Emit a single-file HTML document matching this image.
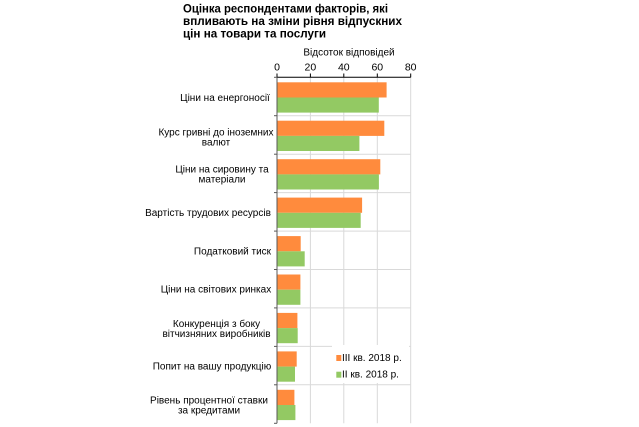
<!DOCTYPE html>
<html><head><meta charset="utf-8"><style>
html,body{margin:0;padding:0;background:#fff;}
svg{display:block;}
text{font-family:"Liberation Sans",Arial,sans-serif;fill:#000;}
</style></head><body>
<svg width="639" height="427" viewBox="0 0 639 427" xmlns="http://www.w3.org/2000/svg">
<rect width="639" height="427" fill="#fff"/>
<!-- title -->
<g font-weight="bold" font-size="12.3">
<text x="183" y="12.5" textLength="205" lengthAdjust="spacingAndGlyphs">Оцінка респондентами факторів, які</text>
<text x="183" y="25" textLength="219" lengthAdjust="spacingAndGlyphs">впливають на зміни рівня відпускних</text>
<text x="183" y="37.5" textLength="143" lengthAdjust="spacingAndGlyphs">цін на товари та послуги</text>
</g>
<text x="349" y="55.5" font-size="10" text-anchor="middle">Відсоток відповідей</text>
<g font-size="10.5" text-anchor="middle">
<text x="277" y="70.7">0</text>
<text x="310.4" y="70.7">20</text>
<text x="343.8" y="70.7">40</text>
<text x="377.3" y="70.7">60</text>
<text x="410.7" y="70.7">80</text>
</g>
<!-- gridlines -->
<g stroke="#d9d9d9" stroke-width="1">
<line x1="310.4" y1="77.3" x2="310.4" y2="423.3"/>
<line x1="343.8" y1="77.3" x2="343.8" y2="423.3"/>
<line x1="377.3" y1="77.3" x2="377.3" y2="423.3"/>
<line x1="410.7" y1="77.3" x2="410.7" y2="423.3"/>
<line x1="277" y1="115.7" x2="410.7" y2="115.7"/>
<line x1="277" y1="154.2" x2="410.7" y2="154.2"/>
<line x1="277" y1="192.6" x2="410.7" y2="192.6"/>
<line x1="277" y1="231.1" x2="410.7" y2="231.1"/>
<line x1="277" y1="269.5" x2="410.7" y2="269.5"/>
<line x1="277" y1="307.9" x2="410.7" y2="307.9"/>
<line x1="277" y1="346.4" x2="410.7" y2="346.4"/>
<line x1="277" y1="384.8" x2="410.7" y2="384.8"/>
</g>
<!-- bars -->
<g fill="#ff8b3d">
<rect x="277" y="82.3" width="109.6" height="15.2"/>
<rect x="277" y="120.7" width="107.3" height="15.2"/>
<rect x="277" y="159.2" width="103.3" height="15.2"/>
<rect x="277" y="197.6" width="85.1" height="15.2"/>
<rect x="277" y="236.1" width="23.7" height="15.2"/>
<rect x="277" y="274.5" width="23.4" height="15.2"/>
<rect x="277" y="312.9" width="20.4" height="15.2"/>
<rect x="277" y="351.4" width="19.7" height="15.2"/>
<rect x="277" y="389.8" width="17.4" height="15.2"/>
</g>
<g fill="#93c963">
<rect x="277" y="97.5" width="101.8" height="15.1"/>
<rect x="277" y="135.9" width="82.4" height="15.1"/>
<rect x="277" y="174.4" width="101.9" height="15.1"/>
<rect x="277" y="212.8" width="83.7" height="15.1"/>
<rect x="277" y="251.3" width="27.7" height="15.1"/>
<rect x="277" y="289.7" width="23.4" height="15.1"/>
<rect x="277" y="328.1" width="20.7" height="15.1"/>
<rect x="277" y="366.6" width="18" height="15.1"/>
<rect x="277" y="405" width="18.4" height="15.1"/>
</g>
<!-- axes -->
<g stroke="#000" stroke-width="1">
<line x1="277" y1="77.3" x2="410.7" y2="77.3"/>
<line x1="277" y1="73.5" x2="277" y2="77.3"/>
<line x1="310.4" y1="73.5" x2="310.4" y2="77.3"/>
<line x1="343.8" y1="73.5" x2="343.8" y2="77.3"/>
<line x1="377.3" y1="73.5" x2="377.3" y2="77.3"/>
<line x1="410.7" y1="73.5" x2="410.7" y2="77.3"/>
</g>
<g stroke="#595959" stroke-width="1">
<line x1="277" y1="77.3" x2="277" y2="423.3"/>
<line x1="274" y1="77.3" x2="277" y2="77.3"/>
<line x1="274" y1="115.7" x2="277" y2="115.7"/>
<line x1="274" y1="154.2" x2="277" y2="154.2"/>
<line x1="274" y1="192.6" x2="277" y2="192.6"/>
<line x1="274" y1="231.1" x2="277" y2="231.1"/>
<line x1="274" y1="269.5" x2="277" y2="269.5"/>
<line x1="274" y1="307.9" x2="277" y2="307.9"/>
<line x1="274" y1="346.4" x2="277" y2="346.4"/>
<line x1="274" y1="384.8" x2="277" y2="384.8"/>
<line x1="274" y1="423.3" x2="277" y2="423.3"/>
</g>
<!-- category labels -->
<g font-size="10" text-anchor="middle">
<text x="225" y="101.2">Ціни на енергоносії</text>
<text x="216" y="135.4">Курс гривні до іноземних</text>
<text x="216" y="145.4">валют</text>
<text x="222" y="172.6">Ціни на сировину та</text>
<text x="222" y="182.6">матеріали</text>
<text x="208" y="215.8">Вартість трудових ресурсів</text>
<text x="232.5" y="254.3">Податковий тиск</text>
<text x="216" y="292.7">Ціни на світових ринках</text>
<text x="216.5" y="326.8">Конкуренція з боку</text>
<text x="216.5" y="336.8">вітчизняних виробників</text>
<text x="212" y="369.6">Попит на вашу продукцію</text>
<text x="209" y="403.3">Рівень процентної ставки</text>
<text x="209" y="413.3">за кредитами</text>
</g>
<!-- legend -->
<rect x="332" y="345" width="77" height="38" fill="#fff"/>
<rect x="336.3" y="355" width="5" height="6" fill="#ff8b3d"/>
<rect x="336.3" y="371.7" width="5" height="6" fill="#93c963"/>
<g font-size="10">
<text x="342" y="361">III кв. 2018 р.</text>
<text x="342" y="377.5">II кв. 2018 р.</text>
</g>
</svg>
</body></html>
